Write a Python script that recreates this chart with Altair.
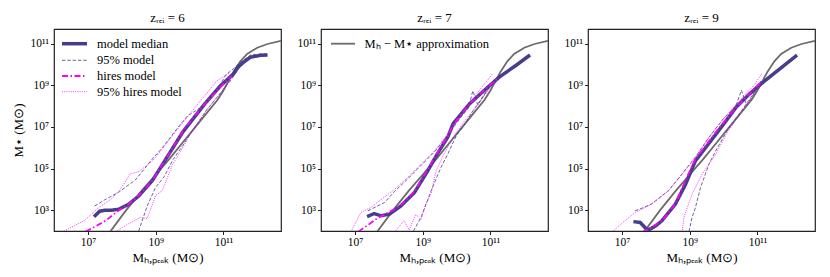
import altair as alt
import pandas as pd

# ---- data: log10 values ----
approx_x = [7.65, 8.13, 8.6, 9.0, 9.4, 9.8, 10.2, 10.5, 10.83, 11.0, 11.15, 11.3, 11.5, 11.7, 12.0, 12.3, 12.7]
approx_y = [1.95, 3.0, 3.95, 4.7, 5.45, 6.25, 7.05, 7.65, 8.3, 8.75, 9.2, 9.65, 10.15, 10.5, 10.8, 10.98, 11.13]

# panel z_rei = 6
p6_med_x = [7.18, 7.35, 7.5, 7.7, 7.92, 8.2, 8.5, 8.9, 9.3, 9.8, 10.04, 10.45, 10.9, 11.3, 11.42, 11.55, 11.8, 12.1, 12.3]
p6_med_y = [2.68, 2.95, 3.0, 3.0, 3.05, 3.28, 3.68, 4.41, 5.45, 6.75, 7.25, 8.1, 8.95, 9.55, 9.85, 10.05, 10.35, 10.44, 10.45]
p6_hir_x = [6.93, 7.2, 7.52, 7.92, 8.2, 8.5, 8.9, 9.3, 9.8, 10.04, 10.45, 10.9, 11.25]
p6_hir_y = [1.97, 2.2, 2.49, 3.0, 3.28, 3.7, 4.42, 5.45, 6.8, 7.3, 8.1, 8.9, 9.45]
p6_up_x = [7.2, 7.5, 7.9, 8.4, 8.9, 9.2, 9.6, 9.94, 10.3, 10.6, 10.8, 11.07, 11.3, 11.5, 11.8, 12.1, 12.3]
p6_up_y = [3.2, 3.5, 3.85, 4.45, 5.45, 6.0, 6.85, 7.53, 7.9, 8.35, 8.7, 9.5, 9.8, 10.1, 10.45, 10.5, 10.5]
p6_lo_x = [8.5, 8.75, 9.0, 9.25, 9.5, 9.8, 10.0, 10.5, 11.0, 11.2, 11.5, 11.8, 12.1, 12.3]
p6_lo_y = [2.0, 3.2, 4.1, 4.6, 5.4, 6.1, 6.6, 7.8, 8.8, 9.2, 9.9, 10.3, 10.4, 10.42]
p6_hup_x = [6.3, 6.9, 7.3, 7.7, 8.0, 8.25, 8.5, 8.9, 9.2, 9.7, 10.0, 10.4, 10.8, 11.2]
p6_hup_y = [2.0, 2.5, 3.1, 3.55, 4.1, 4.75, 4.85, 5.35, 5.95, 7.0, 7.6, 8.4, 9.2, 9.6]
p6_hlo_x = [7.85, 8.2, 8.55, 8.75, 9.0, 9.2, 9.5, 9.8, 10.0, 10.5, 11.0, 11.2]
p6_hlo_y = [2.0, 2.35, 2.65, 2.6, 3.7, 3.95, 5.2, 6.0, 6.6, 7.8, 8.8, 9.3]

# panel z_rei = 7
p7_med_x = [7.36, 7.57, 7.77, 8.02, 8.36, 8.76, 9.15, 9.45, 9.74, 9.9, 10.38, 10.88, 11.27, 11.76, 12.17]
p7_med_y = [2.69, 2.84, 2.73, 2.81, 3.21, 3.85, 4.89, 5.75, 6.5, 7.15, 8.1, 8.84, 9.4, 9.96, 10.45]
p7_hir_x = [7.1, 7.4, 7.67, 8.0, 8.17, 8.4, 8.76, 9.15, 9.45, 9.74, 9.9, 10.38, 10.88, 11.2]
p7_hir_y = [1.97, 2.3, 2.62, 2.9, 3.05, 3.3, 3.9, 4.95, 5.8, 6.55, 7.1, 8.1, 8.85, 9.3]
p7_up_x = [7.38, 7.87, 8.17, 8.56, 8.86, 9.35, 9.74, 10.1, 10.35, 10.48, 10.63, 10.8, 11.12]
p7_up_y = [2.97, 3.36, 3.9, 4.5, 5.0, 5.8, 6.6, 7.4, 7.9, 8.73, 8.05, 8.5, 9.29]
p7_lo_x = [8.73, 8.95, 9.25, 9.54, 9.74, 10.0, 10.19, 10.5, 10.8, 11.1]
p7_lo_y = [2.0, 2.65, 3.93, 5.05, 5.69, 6.6, 7.0, 7.8, 8.5, 9.2]
p7_hup_x = [6.88, 7.18, 7.47, 8.17, 8.56, 8.86, 9.35, 9.74, 10.2, 10.6, 11.07]
p7_hup_y = [1.95, 2.89, 3.13, 4.0, 4.57, 5.05, 5.85, 6.65, 7.7, 8.6, 9.56]
p7_hlo_x = [8.2, 8.45, 8.6, 8.8, 8.95, 9.1, 9.25, 9.4, 9.6, 9.9, 10.2, 10.6, 11.0, 11.15]
p7_hlo_y = [2.0, 2.5, 2.05, 2.8, 2.55, 3.3, 3.8, 4.9, 5.6, 6.5, 7.2, 8.0, 8.9, 9.2]

# panel z_rei = 9
p9_med_x = [7.34, 7.54, 7.73, 7.83, 8.0, 8.18, 8.58, 8.88, 9.17, 9.47, 9.8, 10.1, 10.38, 10.78, 11.18, 11.67, 12.17]
p9_med_y = [2.45, 2.41, 2.09, 2.09, 2.25, 2.49, 3.29, 4.25, 5.37, 6.0, 6.7, 7.35, 7.96, 8.6, 9.16, 9.8, 10.44]
p9_hir_x = [7.6, 7.88, 8.23, 8.58, 8.88, 9.17, 9.47, 9.8, 10.1, 10.38, 10.78, 11.1]
p9_hir_y = [1.95, 2.17, 2.57, 3.32, 4.45, 5.45, 6.1, 6.8, 7.4, 7.95, 8.6, 9.15]
p9_up_x = [7.39, 7.6, 7.88, 8.38, 8.78, 9.17, 9.57, 10.0, 10.35, 10.53, 10.68, 10.9, 11.1]
p9_up_y = [2.97, 3.1, 3.3, 3.95, 4.75, 5.55, 6.5, 7.4, 7.95, 8.76, 8.04, 8.6, 9.2]
p9_lo_x = [8.98, 9.07, 9.17, 9.32, 9.57, 9.77, 10.1, 10.5, 10.8, 11.1]
p9_lo_y = [1.97, 2.65, 3.12, 4.08, 5.21, 5.85, 6.8, 7.7, 8.4, 9.1]
p9_hup_x = [6.69, 7.09, 7.39, 7.88, 8.38, 8.78, 9.17, 9.57, 10.0, 10.5, 10.9, 11.13]
p9_hup_y = [1.93, 2.49, 2.89, 3.29, 3.93, 4.73, 5.53, 6.49, 7.4, 8.3, 9.0, 9.56]
p9_hlo_x = [8.78, 8.83, 8.93, 9.07, 9.37, 9.77, 10.1, 10.5, 10.8, 11.1]
p9_hlo_y = [1.93, 2.65, 3.12, 3.77, 4.73, 5.69, 6.7, 7.65, 8.35, 9.05]

titles = ["zᵣₑᵢ = 6", "zᵣₑᵢ = 7", "zᵣₑᵢ = 9"]
x_ticks = [7, 9, 11]
y_ticks = [3, 5, 7, 9, 11]
sup = {3: "³", 5: "⁵", 7: "⁷", 9: "⁹", 11: "¹¹"}

FONT = "Liberation Serif"
PURPLE = "#483d8b"
MAGENTA = "#ff00ff"
GRAY = "#6b6b6b"

panels = [
    dict(med=(p6_med_x, p6_med_y), hir=(p6_hir_x, p6_hir_y), up=(p6_up_x, p6_up_y), lo=(p6_lo_x, p6_lo_y),
         hup=(p6_hup_x, p6_hup_y), hlo=(p6_hlo_x, p6_hlo_y)),
    dict(med=(p7_med_x, p7_med_y), hir=(p7_hir_x, p7_hir_y), up=(p7_up_x, p7_up_y), lo=(p7_lo_x, p7_lo_y),
         hup=(p7_hup_x, p7_hup_y), hlo=(p7_hlo_x, p7_hlo_y)),
    dict(med=(p9_med_x, p9_med_y), hir=(p9_hir_x, p9_hir_y), up=(p9_up_x, p9_up_y), lo=(p9_lo_x, p9_lo_y),
         hup=(p9_hup_x, p9_hup_y), hlo=(p9_hlo_x, p9_hlo_y)),
]


def lab_expr(ticks):
    e = "''"
    for t in reversed(ticks):
        e = f"(datum.value == {t} ? '10{sup[t]}' : {e})"
    return e


W, H = 227, 202


def frame(xs, ys):
    return pd.DataFrame({"x": xs, "y": ys, "o": range(len(xs))})


def line(df, color, width, dash=None, idx=0):
    kw = dict(color=color, strokeWidth=width, clip=True)
    if dash:
        kw["strokeDash"] = dash
    xaxis = alt.Axis(values=x_ticks, labelExpr=lab_expr(x_ticks), title="Mₕ,ₚₑₐₖ (M⊙)")
    yaxis = alt.Axis(values=y_ticks, labelExpr=lab_expr(y_ticks), title="M⋆ (M⊙)" if idx == 0 else None)
    return alt.Chart(df).mark_line(**kw).encode(
        x=alt.X("x:Q", scale=alt.Scale(domain=[6, 12.7], nice=False, zero=False), axis=xaxis),
        y=alt.Y("y:Q", scale=alt.Scale(domain=[2, 11.7], nice=False, zero=False), axis=yaxis),
        order="o:Q",
    )


DASH = [3.5, 1.8]
DASHDOT = [6, 2.5, 1.5, 2.5]
DOT = [1, 1.2]

legend6 = [
    ("model median", PURPLE, 3.5, None),
    ("95% model", PURPLE, 0.8, DASH),
    ("hires model", MAGENTA, 1.8, DASHDOT),
    ("95% hires model", MAGENTA, 0.8, DOT),
]
legend7 = [("Mₕ − M⋆ approximation", GRAY, 1.8, None)]
leg_rows = [14.7, 31.3, 47.0, 62.7]


def legend(entries, x0, x1, xt):
    out = []
    for (label, color, width, dash), yy in zip(entries, leg_rows):
        kw = dict(color=color, strokeWidth=width)
        if dash:
            kw["strokeDash"] = dash
        src = pd.DataFrame({"t": [label]})
        out.append(alt.Chart(src).mark_rule(**kw).encode(
            x=alt.value(x0), x2=alt.value(x1), y=alt.value(yy)))
        out.append(alt.Chart(src).mark_text(align="left", baseline="middle", font=FONT,
                                            fontSize=12.5, color="black").encode(
            x=alt.value(xt), y=alt.value(yy), text="t:N"))
    return out


charts = []
for i, p in enumerate(panels):
    layers = [
        line(frame(approx_x, approx_y), GRAY, 1.8, idx=i),
        line(frame(*p["med"]), PURPLE, 3.5, idx=i),
        line(frame(*p["up"]), PURPLE, 0.8, DASH, idx=i),
        line(frame(*p["lo"]), PURPLE, 0.8, DASH, idx=i),
        line(frame(*p["hir"]), MAGENTA, 1.8, DASHDOT, idx=i),
        line(frame(*p["hup"]), MAGENTA, 0.8, DOT, idx=i),
        line(frame(*p["hlo"]), MAGENTA, 0.8, DOT, idx=i),
    ]
    if i == 0:
        layers += legend(legend6, 8, 33, 43)
    if i == 1:
        layers += legend(legend7, 10, 34, 43.5)
    ch = alt.layer(*layers).properties(
        width=W, height=H,
        title=alt.Title(titles[i], font=FONT, fontSize=13, fontWeight="normal", color="black", offset=4),
    )
    charts.append(ch)

chart = alt.hconcat(*charts, spacing=40, bounds="flush").properties(
    padding={"left": 3, "top": 3, "right": 3, "bottom": 3}
).configure_view(stroke="#222222", strokeWidth=1.2).configure_axis(
    domain=False, grid=False, ticks=True, tickSize=3.5, tickColor="#222222", tickWidth=1,
    labelFont=FONT, labelFontSize=11.5, labelColor="black", labelPadding=2,
    titleFont=FONT, titleFontSize=13, titleFontWeight="normal", titleColor="black",
).configure_axisY(titlePadding=5).configure_axisX(titlePadding=3)

chart.save("out.html", embed_options={"renderer": "svg", "actions": False})
